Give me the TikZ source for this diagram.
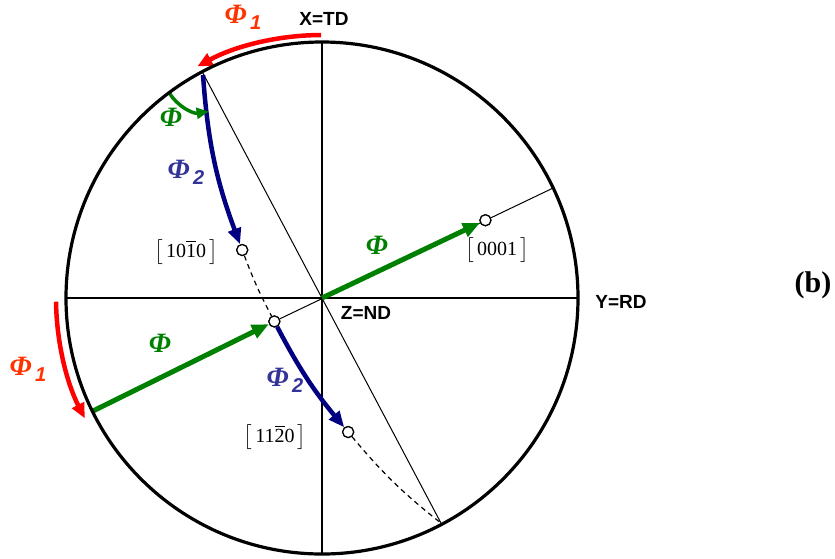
\documentclass[tikz,border=0pt]{standalone}
\usepackage{exscale}
\usepackage{fontspec}
\setmainfont{Liberation Serif}
\newfontfamily\axisfont{Liberation Sans}
\usetikzlibrary{arrows.meta}

\definecolor{phired}{RGB}{255,0,0}
\definecolor{phiredtext}{RGB}{255,51,0}
\definecolor{phigreen}{RGB}{0,128,0}
\definecolor{phinavy}{RGB}{0,0,128}
\definecolor{phibluetext}{RGB}{51,51,153}

\newcommand{\phisym}{{\bfseries\itshape Φ}}
\newcommand{\phiidx}[1]{\phisym\raisebox{-6pt}{\axisfont\bfseries\itshape\fontsize{20}{20}\selectfont\,#1}}
\newcommand{\bardigit}[1]{$\overline{\mbox{#1}}$}

\tikzset{
  pole/.style={circle,draw,fill=white,line width=1.2pt,inner sep=0pt,minimum size=11pt},
  axislabel/.style={inner sep=0pt,font=\axisfont\bfseries\fontsize{19}{22}\selectfont},
  millerlabel/.style={inner sep=0pt,font=\fontsize{20}{24}\selectfont},
  philabel/.style={inner sep=0pt,font=\fontsize{28}{32}\selectfont},
  redarrow/.style={phired,line width=4.5pt,-{Triangle[length=15pt,width=13pt]}},
  greenarrow/.style={phigreen,line width=5pt,-{Triangle[length=17pt,width=14pt]}},
  navyarrow/.style={phinavy,line width=4.5pt,-{Triangle[length=16pt,width=13pt]}},
  trace/.style={line width=1.2pt,dash pattern=on 5pt off 4pt},
}

\begin{document}
\begin{tikzpicture}[x=1pt,y=-1pt]
\path[use as bounding box] (0,0) rectangle (835,558);
% projection circle and axes
\coordinate (C) at (322,298);
\coordinate (O) at (839,24.5);
\coordinate (A) at ([shift={(184.36:638pt)}]O);
\coordinate (B) at ([shift={(231.4:638pt)}]O);
\coordinate (E) at ([shift={(25.45:256pt)}]C);
\coordinate (F) at ([shift={(206.26:256pt)}]C);
\draw[line width=2.2pt] (322,42) -- (322,554);
\draw[line width=2.2pt] (66,298) -- (578,298);
\draw[line width=1pt] (A) -- (B);
% poles
\node[pole] (p1010) at ([shift={(200.7:638pt)}]O) {};
\node[pole] (p0) at ([shift={(207.74:638pt)}]O) {};
\node[pole] (p1120) at ([shift={(219.7:638pt)}]O) {};
\node[pole] (p0001) at ([shift={(25.45:181pt)}]C) {};
\draw[line width=1pt] (p0) -- (E);
\draw[trace] (p1010) to[bend right=3.5] (p0);
\draw[trace] (p1120) to[bend right=5.85] (B);
% rotations
\draw[navyarrow,shorten <=2pt] (A) to[bend right=8.2] (p1010);
\draw[navyarrow] (p0) to[bend right=6] (p1120);
\draw[greenarrow] (C) -- (p0001);
\draw[greenarrow] (F) -- (p0);
\draw[phigreen,line width=3.5pt,-{Triangle[length=12pt,width=11pt]}] ([shift={(211.2:39pt)}]A) arc[start angle=211.2,end angle=278.5,radius=39pt];
\draw[redarrow] ([shift={(90.2:263pt)}]C) arc[start angle=90.2,end angle=118.3,radius=263pt];
\draw[redarrow] ([shift={(180.8:266pt)}]C) arc[start angle=180.8,end angle=206.9,radius=266pt];
\draw[line width=3.2pt] (C) circle[radius=256pt];
\node[pole] at (p1010) {};
\node[pole] at (p0) {};
\node[pole] at (p1120) {};
\node[pole] at (p0001) {};
% labels
\node[axislabel] (xtd) at (324,19) {X=TD};
\node[axislabel] (yrd) at (621,302) {Y=RD};
\node[axislabel] (znd) at (366,313) {Z=ND};
\node[millerlabel] (l1010) at (186,252) {$\bigl[$\,10\bardigit{1}0\,$\bigr]$};
\node[millerlabel] (l0001) at (497,250) {$\bigl[$\,0001\,$\bigr]$};
\node[millerlabel] (l1120) at (275,437) {$\bigl[$\,11\bardigit{2}0\,$\bigr]$};
\node[philabel,text=phiredtext] (phione) at (243,17) {\phiidx{1}};
\node[philabel,text=phiredtext] (phionel) at (28,369) {\phiidx{1}};
\node[philabel,text=phibluetext] (phitwo) at (186,172) {\phiidx{2}};
\node[philabel,text=phibluetext] (phitwol) at (285,380) {\phiidx{2}};
\node[philabel,text=phigreen] (phia) at (171,117) {\phisym};
\node[philabel,text=phigreen] (phib) at (377,245) {\phisym};
\node[philabel,text=phigreen] (phic) at (160,343) {\phisym};
\node[inner sep=0pt,font=\bfseries\fontsize{30}{34}\selectfont] (tag) at (813,285) {(b)};
\end{tikzpicture}
\end{document}
